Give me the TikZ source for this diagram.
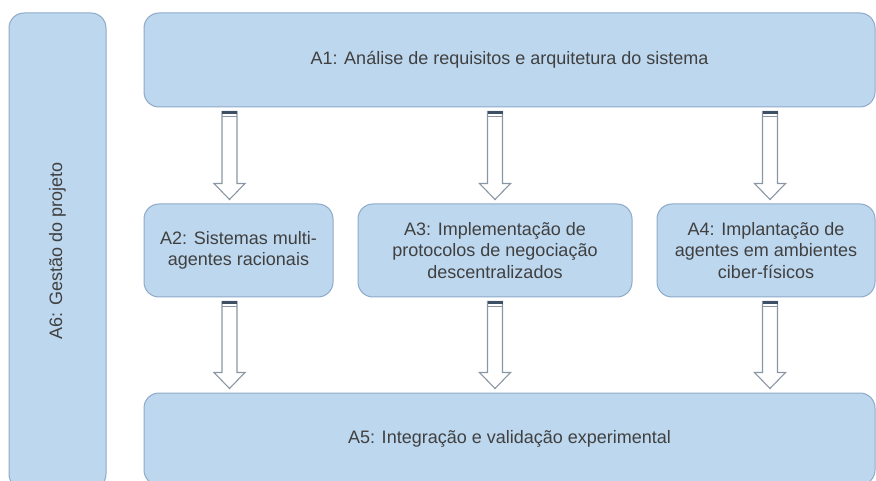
\documentclass[tikz,border=0pt]{standalone}
\usepackage{fontspec}
\setmainfont{Liberation Sans}
\usetikzlibrary{calc}
\definecolor{boxfill}{HTML}{BDD7EE}
\definecolor{boxline}{HTML}{8EAAC9}
\definecolor{txt}{HTML}{404040}
\definecolor{arrline}{HTML}{8A96A3}
\definecolor{arrtop}{HTML}{3E5064}
\newcommand{\blockarr}[3]{%
  \draw[arrbody] let \p1=(#2.south), \p2=(#3.north) in
    (#1pt-7.5pt,\y1-4pt) -- (#1pt-7.5pt,\y2+20pt) -- (#1pt-15.5pt,\y2+20pt)
    -- (#1pt,\y2+4pt) -- (#1pt+15.5pt,\y2+20pt) -- (#1pt+7.5pt,\y2+20pt)
    -- (#1pt+7.5pt,\y1-4pt) -- cycle;
  \fill[arrtop] let \p1=(#2.south) in
    (#1pt-7.5pt,\y1-3.6pt) rectangle (#1pt+7.5pt,\y1-6.6pt);
  \draw[arrline, line width=0.8pt] let \p1=(#2.south) in
    (#1pt-7.5pt,\y1-8.6pt) -- (#1pt+7.5pt,\y1-8.6pt);
}
\begin{document}
\begin{tikzpicture}[x=1pt,y=1pt,
  box/.style={draw=boxline, line width=1pt, fill=boxfill, rounded corners=15pt,
    text=txt, font=\fontsize{18}{21.5}\selectfont, align=center, inner sep=0pt},
  arrbody/.style={draw=arrline, line width=1.1pt, fill=white, line join=miter}]
\useasboundingbox (0,0) rectangle (876,-481);
\clip (0,0) rectangle (876,-481);

\node[box, rotate=90, minimum width=476, minimum height=97] (A6) at (57.5,-251) {A6: Gestão do projeto};
\node[box, minimum width=731, minimum height=94] (A1) at (509.5,-60) {A1: Análise de requisitos e arquitetura do sistema};
\node[box, minimum width=189, minimum height=93] (A2) at (238.5,-250.5) {A2: Sistemas multi-\\agentes racionais};
\node[box, minimum width=274, minimum height=93] (A3) at (495,-250.5) {A3: Implementação de\\protocolos de negociação\\descentralizados};
\node[box, minimum width=218, minimum height=93] (A4) at (766,-250.5) {A4: Implantação de\\agentes em ambientes\\ciber-físicos};
\node[box, minimum width=731, minimum height=92] (A5) at (509.5,-439) {A5: Integração e validação experimental};

\blockarr{229.5}{A1}{A2}
\blockarr{495}{A1}{A3}
\blockarr{770}{A1}{A4}
\blockarr{229.5}{A2}{A5}
\blockarr{495}{A3}{A5}
\blockarr{770}{A4}{A5}
\end{tikzpicture}
\end{document}
